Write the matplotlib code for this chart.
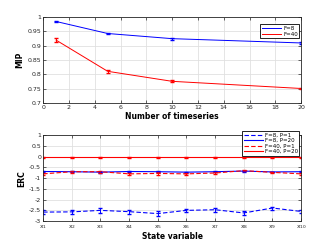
import matplotlib
matplotlib.use("Agg")
import matplotlib.pyplot as plt
from matplotlib.lines import Line2D
import numpy as np

# Top panel data
n_series = [1, 5, 10, 20]
mip_f8 = [0.985, 0.943, 0.925, 0.910]
mip_f8_err = [0.002, 0.003, 0.003, 0.003]
mip_f40 = [0.920, 0.811, 0.776, 0.751]
mip_f40_err = [0.006, 0.005, 0.004, 0.003]

# Bottom panel data
state_labels = [r"x$_{%d}$" % i for i in range(1, 11)]
erc_f8_p1 = [-2.58, -2.57, -2.50, -2.56, -2.65, -2.50, -2.47, -2.62, -2.39, -2.55]
erc_f8_p1_err = [0.08, 0.10, 0.10, 0.10, 0.10, 0.08, 0.09, 0.09, 0.07, 0.08]
erc_f8_p20 = [-0.69, -0.70, -0.72, -0.69, -0.70, -0.72, -0.70, -0.67, -0.71, -0.70]
erc_f8_p20_err = [0.02] * 10
erc_f40_p1 = [-0.80, -0.70, -0.70, -0.80, -0.78, -0.80, -0.76, -0.65, -0.73, -0.80]
erc_f40_p1_err = [0.05, 0.05, 0.05, 0.06, 0.05, 0.06, 0.06, 0.03, 0.04, 0.05]
erc_f40_p20 = [-0.03] * 10
erc_f40_p20_err = [0.01] * 10

plt.rcParams['font.family'] = ['DejaVu Sans']
plt.rcParams['mathtext.default'] = 'regular'
fig = plt.figure(figsize=(3.32, 2.49), dpi=100)

def style(ax):
    ax.grid(True, color='#e0e0e0', linewidth=0.6)
    ax.set_axisbelow(True)
    ax.tick_params(direction='in', length=2, width=0.5, labelsize=4.5, pad=1.5,
                   top=True, right=True, colors='#262626')
    for s in ax.spines.values():
        s.set_linewidth(0.6)
        s.set_color('#262626')

def make_legend(ax, handles, anchor, spacing):
    leg = ax.legend(handles=handles, loc='upper right', fontsize=4, frameon=True,
                    fancybox=False, handlelength=3.5, borderpad=0.3,
                    labelspacing=spacing, handletextpad=0.3, bbox_to_anchor=anchor,
                    borderaxespad=0.3)
    leg.get_frame().set_edgecolor('black')
    leg.get_frame().set_linewidth(0.6)
    leg.get_frame().set_alpha(1)
    return leg

DASH = (0, (4, 2))

ax1 = fig.add_axes([0.13, 0.586, 0.777, 0.345])
ax1.errorbar(n_series, mip_f8, yerr=mip_f8_err, color='blue', lw=0.7, capsize=1.5,
             elinewidth=0.7)
ax1.errorbar(n_series, mip_f40, yerr=mip_f40_err, color='red', lw=0.7, capsize=1.5,
             elinewidth=0.7)
ax1.set_xlim(0, 20)
ax1.set_ylim(0.7, 1.0)
ax1.set_xticks(range(0, 21, 2))
ax1.set_yticks([0.7, 0.75, 0.8, 0.85, 0.9, 0.95, 1.0])
ax1.set_yticklabels(['0.7', '0.75', '0.8', '0.85', '0.9', '0.95', '1'])
ax1.set_xlabel('Number of timeseries', fontsize=5.5, fontweight='bold', labelpad=1)
ax1.set_ylabel('MIP', fontsize=5.5, fontweight='bold', labelpad=2)
style(ax1)
make_legend(ax1, [Line2D([], [], color='blue', lw=0.7, label='F=8'),
                  Line2D([], [], color='red', lw=0.7, label='F=40')],
            (1.0, 0.94), 0.2)

ax2 = fig.add_axes([0.13, 0.112, 0.777, 0.345])
xs = np.arange(1, 11)
kw = dict(lw=0.8, capsize=1.5, elinewidth=0.7)
ax2.errorbar(xs, erc_f8_p1, yerr=erc_f8_p1_err, color='blue', ls=DASH, **kw)
ax2.errorbar(xs, erc_f8_p20, yerr=erc_f8_p20_err, color='blue', ls='-', **kw)
ax2.errorbar(xs, erc_f40_p1, yerr=erc_f40_p1_err, color='red', ls=DASH, **kw)
ax2.errorbar(xs, erc_f40_p20, yerr=erc_f40_p20_err, color='red', ls='-', **kw)
ax2.set_xlim(1, 10)
ax2.set_ylim(-3, 1)
ax2.set_xticks(xs)
ax2.set_xticklabels(state_labels)
ax2.set_yticks([-3, -2.5, -2, -1.5, -1, -0.5, 0, 0.5, 1])
ax2.set_yticklabels(['-3', '-2.5', '-2', '-1.5', '-1', '-0.5', '0', '0.5', '1'])
ax2.set_xlabel('State variable', fontsize=5.5, fontweight='bold', labelpad=1)
ax2.set_ylabel('ERC', fontsize=5.5, fontweight='bold', labelpad=2)
style(ax2)
make_legend(ax2, [Line2D([], [], color='blue', lw=0.8, ls=DASH, label='F=8, P=1'),
                  Line2D([], [], color='blue', lw=0.8, ls='-', label='F=8, P=20'),
                  Line2D([], [], color='red', lw=0.8, ls=DASH, label='F=40, P=1'),
                  Line2D([], [], color='red', lw=0.8, ls='-', label='F=40, P=20')],
            (1.0, 1.07), 0.1)

fig.savefig('out.png', dpi=100)
